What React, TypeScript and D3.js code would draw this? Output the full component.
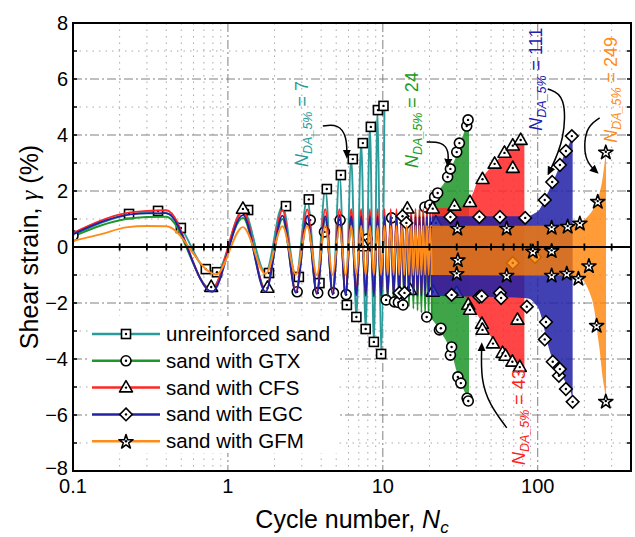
import React from "react";
import * as d3 from "d3";

const WIDTH = 635;
const HEIGHT = 537;
const PLOT = { left: 73, right: 631, top: 23, bottom: 471 };

const X_DOMAIN: [number, number] = [0.1, 400];
const Y_DOMAIN: [number, number] = [-8, 8];
const X_MAJOR = [1, 10, 100];
const X_LABEL_TICKS = [0.1, 1, 10, 100];
const X_LABELS = ["0.1", "1", "10", "100"];
const X_MINOR = [0.2, 0.3, 0.4, 0.5, 0.6, 0.7, 0.8, 0.9, 2, 3, 4, 5, 6, 7, 8, 9, 20, 30, 40, 50, 60, 70, 80, 90, 200, 300];
const Y_MAJOR_GRID = [-6, -4, -2, 2, 4, 6];
const Y_MINOR_GRID = [-7, -5, -3, -1, 1, 3, 5, 7];
const Y_LABEL_TICKS = [-8, -6, -4, -2, 0, 2, 4, 6, 8];
const Y_LABELS = ["−8", "−6", "−4", "−2", "0", "2", "4", "6", "8"];
const Y_EDGE_TICKS = [-7, -6, -5, -4, -3, -2, -1, 1, 2, 3, 4, 5, 6, 7];

const SERIES_NAMES = ["unreinforced sand", "sand with GTX", "sand with CFS", "sand with EGC", "sand with GFM"];
const SERIES_COLORS = ["#2b9b9b", "#1f962a", "#ff2626", "#2222a6", "#ff8c1a"];
const BAND_COLORS = ["#2b9b9b", "#1f962a", "#ff2626", "#2222a6", "#ff8000"];
const BAND_OPACITY = [0.86, 0.86, 0.86, 0.86, 0.78];
const SERIES_SHAPES = ["square", "circle", "triangle", "diamond", "star"];

// first loading quarter / half cycle: [N, strain]
const UNR_START: [number, number][] = [[0.1, 0.42], [0.23, 1.16], [0.35, 1.26], [0.43, 1.15], [0.5, 0.68], [0.72, -0.8], [0.8, -0.86], [0.85, -0.88]];
const GTX_START: [number, number][] = [[0.1, 0.38], [0.22, 1.0], [0.3, 1.07], [0.4, 1.08], [0.78, -1.5]];
const CFS_START: [number, number][] = [[0.1, 0.5], [0.22, 1.21], [0.3, 1.29], [0.4, 1.31], [0.78, -1.55]];
const EGC_START: [number, number][] = [[0.1, 0.45], [0.22, 1.14], [0.3, 1.2], [0.4, 1.21], [0.79, -1.6]];
const GFM_START: [number, number][] = [[0.1, 0.22], [0.15, 0.45], [0.22, 0.7], [0.3, 0.75], [0.4, 0.74], [0.84, -0.98]];

// peak (cycle k + 0.25) and trough (cycle k + 0.75) strains, k = 1, 2, ...
const UNR_PEAKS = [1.32, 1.46, 1.7, 2.07, 2.57, 3.14, 3.71, 4.29, 4.89, 5.04];
const UNR_TROUGHS = [-0.93, -1.07, -1.29, -1.65, -2.07, -2.5, -2.93, -3.39, -3.82];
const GTX_PEAKS = [1.04, 1.0, 0.98, 1.0, 0.98, 1.0, 1.0, 1.02, 1.02, 1.04, 1.05, 1.08, 1.12, 1.16, 1.2, 1.26, 1.32, 1.4, 1.48, 1.58];
const GTX_TROUGHS = [-1.5, -1.58, -1.62, -1.64, -1.68, -1.7, -1.74, -1.78, -1.84, -1.9, -1.95, -2.0, -2.06, -2.12, -2.2, -2.27, -2.35, -2.42, -2.5, -2.58];
const CFS_PEAKS = [1.27, 1.32, 1.34, 1.35, 1.35, 1.36, 1.36, 1.36, 1.36, 1.36, 1.36, 1.36, 1.36, 1.37, 1.37, 1.37, 1.37, 1.37, 1.37, 1.38];
const CFS_TROUGHS = [-1.56, -1.6, -1.62, -1.64, -1.65, -1.66, -1.66, -1.67, -1.67, -1.68, -1.68, -1.68, -1.68, -1.68, -1.68, -1.68, -1.68, -1.68, -1.68, -1.68];
const EGC_PEAKS = [1.14, 1.12, 1.1, 1.1, 1.1, 1.1, 1.1, 1.1, 1.1, 1.1, 1.1, 1.1, 1.1, 1.1, 1.1, 1.1, 1.1, 1.1, 1.1, 1.1];
const EGC_TROUGHS = [-1.6, -1.64, -1.68, -1.7, -1.72, -1.73, -1.74, -1.75, -1.75, -1.75, -1.75, -1.75, -1.75, -1.75, -1.75, -1.75, -1.75, -1.75, -1.75, -1.75];
const GFM_PEAKS = [0.71, 0.74, 0.75, 0.75, 0.75, 0.76, 0.76, 0.76, 0.76, 0.76, 0.76, 0.76, 0.76, 0.76, 0.76, 0.76, 0.76, 0.76, 0.76, 0.76];
const GFM_TROUGHS = [-0.96, -0.98, -1.0, -1.0, -1.0, -1.0, -1.0, -1.0, -1.0, -1.0, -1.0, -1.0, -1.0, -1.0, -1.0, -1.0, -1.0, -1.0, -1.0, -1.0];

// dense part: [N, lower envelope, upper envelope]
const GTX_BAND: [number, number, number][] = [[20.75, -2.58, 1.6], [21.6, -2.7, 1.79], [23.2, -2.96, 2.05], [26.2, -3.45, 2.5], [27.5, -3.7, 2.8], [30, -4.45, 3.3], [31.5, -4.8, 3.7], [33, -5.05, 4.0], [34.8, -5.35, 4.3], [36, -5.5, 4.35]];
const CFS_BAND: [number, number, number][] = [[20.75, -1.68, 1.38], [30, -1.68, 1.42], [33, -1.72, 1.45], [35.5, -1.9, 1.55], [38, -2.15, 1.9], [41, -2.45, 2.35], [44, -2.72, 2.5], [48, -3.05, 2.75], [52.7, -3.4, 3.0], [58, -3.7, 3.25], [63.6, -3.96, 3.46], [70, -4.15, 3.65], [77, -4.3, 3.82], [82, -4.43, 3.93]];
const EGC_BAND: [number, number, number][] = [[20.75, -1.75, 1.1], [45, -1.78, 1.1], [80, -1.82, 1.1], [88, -1.85, 1.12], [95, -2.0, 1.2], [103, -2.3, 1.35], [108, -2.7, 1.55], [113, -3.2, 1.8], [120, -3.75, 2.1], [126, -4.05, 2.35], [133, -4.3, 2.65], [140, -4.5, 2.95], [152, -4.85, 3.43], [160, -5.05, 3.7], [168, -5.4, 3.96]];
const GFM_BAND: [number, number, number][] = [[20.75, -1.0, 0.76], [100, -1.02, 0.76], [170, -1.02, 0.78], [188, -1.08, 0.86], [200, -1.25, 0.97], [215, -1.6, 1.15], [232, -2.25, 1.43], [243, -3.1, 1.7], [250, -3.6, 1.9], [263, -4.7, 2.5], [270, -5.1, 3.0], [276, -5.45, 3.45]];

// marker points [N, strain]
const UNR_MARKERS: [number, number][] = [[0.23, 1.18], [0.354, 1.29], [0.497, 0.68], [0.72, -0.79], [0.85, -0.9], [1.35, 1.32], [1.84, -0.93], [2.37, 1.46], [2.87, -1.07], [3.33, 1.7], [3.9, -1.29], [4.35, 2.07], [5.36, 2.57], [5.86, -2.07], [6.4, 3.14], [6.75, -2.5], [7.43, 3.71], [7.75, -2.93], [8.37, 4.29], [8.75, -3.39], [9.3, 4.89], [9.75, -3.82], [10.1, 5.04]];
const GTX_MARKERS: [number, number][] = [[0.1, 0.4], [2.8, -1.6], [3.4, 0.96], [3.8, -1.64], [4.2, 0.54], [4.8, -1.64], [5.3, 0.96], [5.8, -1.7], [7.9, 0.28], [10.5, -1.89], [11.4, 1.04], [11.9, -1.96], [12.6, -1.98], [13.5, -2.07], [18.7, 1.43], [19.2, -2.5], [20.1, 1.5], [21.6, 1.79], [22.6, 1.93], [23.2, -2.96], [23.7, -2.9], [26.2, 2.5], [27.3, 2.79], [27.3, -3.86], [27.8, -3.57], [30, 3.39], [30.5, -4.64], [31.2, 3.71], [31.9, -4.86], [34.8, 4.32], [35, -5.4], [35.5, 4.54], [35.6, -5.5]];
const CFS_MARKERS: [number, number][] = [[0.78, -1.43], [1.25, 1.36], [1.8, -1.46], [7.6, 0.02], [14.4, 1.37], [15, -1.54], [21, 1.37], [21, -1.6], [22, 0.86], [29, 1.47], [30, -1.64], [35.6, -2.07], [36.5, 1.6], [36.5, -2.25], [43.6, -2.75], [44, 2.42], [44, -2.96], [51.4, -3.45], [52.7, 2.97], [59.3, -3.79], [61, 3.36], [62, -3.89], [68.6, -4.1], [69, 2.82], [69, 3.62], [74, -2.6], [76.6, -4.29], [77.6, 3.82]];
const EGC_MARKERS: [number, number][] = [[13.4, 1.1], [14.2, 0.86], [12.8, -1.64], [13.8, -1.64], [27.3, 1.07], [27.8, -1.71], [42, 1.07], [42, -1.78], [43.5, -1.76], [57, 1.07], [57, -1.64], [58, -1.82], [69, -0.57], [83, 1.04], [85, -2.13], [96, -0.36], [111, 1.68], [111, -3.3], [113, -2.68], [124, 2.32], [125, -4.1], [137, -4.6], [139, 2.93], [139, -4.36], [152, 3.43], [152, -5.07], [166, 3.96], [168, -5.53]];
const GFM_MARKERS: [number, number][] = [[30.3, 0.68], [30.5, -0.45], [30, -0.94], [63, 0.68], [63, -1.0], [93, -0.14], [123, 0.71], [123, -0.12], [123, -1.0], [156, 0.75], [154, -0.93], [183, -1.11], [187, 0.86], [214, -0.66], [240, -2.79], [244, 1.64], [275, 3.4], [275, -5.5]];

// annotations: text anchor [N, strain], arrow control points [N, strain]
const ANNOT_VALUES = ["7", "24", "43", "111", "249"];
const ANNOT_ANCHORS: [number, number][] = [[3.28, 2.86], [16.8, 2.82], [82.4, -7.79], [106, 4.15], [323, 3.72]];
const ANNOT_ARROWS: [number, number][][] = [
  [[4.1, 4.32], [5.13, 4.39], [5.86, 3.96], [5.86, 3.25]],
  [[19.2, 3.75], [24.0, 3.75], [26.7, 3.46], [26.3, 2.93]],
  [[63.1, -6.46], [49.0, -5.64], [42.9, -4.75], [43.5, -3.5]],
  [[116, 5.64], [151.6, 5.43], [149.4, 3.82], [117.8, 2.64]],
  [[251, 4.61], [201, 4.25], [198, 3.11], [240, 2.68]],
];
const ANNOT_COLORS = ["#2a9a9a", "#1a9a1a", "#ff2020", "#2020b0", "#ff8c1a"];

const STARTS = [UNR_START, GTX_START, CFS_START, EGC_START, GFM_START];
const PEAKS = [UNR_PEAKS, GTX_PEAKS, CFS_PEAKS, EGC_PEAKS, GFM_PEAKS];
const TROUGHS = [UNR_TROUGHS, GTX_TROUGHS, CFS_TROUGHS, EGC_TROUGHS, GFM_TROUGHS];
const BANDS = [null, GTX_BAND, CFS_BAND, EGC_BAND, GFM_BAND];
const MARKERS = [UNR_MARKERS, GTX_MARKERS, CFS_MARKERS, EGC_MARKERS, GFM_MARKERS];

const FONT = "'Liberation Sans', Arial, Helvetica, sans-serif";

function buildTrace(start: [number, number][], peaks: number[], troughs: number[]): [number, number][] {
  const out: [number, number][] = start.slice();
  const n = Math.max(peaks.length, troughs.length);
  for (let i = 0; i < n; i++) {
    if (i < peaks.length) out.push([i + 1.25, peaks[i]]);
    if (i < troughs.length) out.push([i + 1.75, troughs[i]]);
  }
  return out;
}

const starPath = d3.symbol(d3.symbolStar, 62)() as string;

function Marker({ shape, cx, cy }: { shape: string; cx: number; cy: number }) {
  const common = { fill: "#fff", stroke: "#000", strokeWidth: 1.6 };
  let el: React.ReactNode = null;
  if (shape === "square") el = <rect x={cx - 4.5} y={cy - 4.5} width={9} height={9} {...common} />;
  else if (shape === "circle") el = <circle cx={cx} cy={cy} r={5} {...common} />;
  else if (shape === "triangle")
    el = <path d={`M${cx},${cy - 7}L${cx + 6.5},${cy + 4.3}L${cx - 6.5},${cy + 4.3}Z`} {...common} strokeLinejoin="round" />;
  else if (shape === "diamond")
    el = <path d={`M${cx},${cy - 6.3}L${cx + 6.3},${cy}L${cx},${cy + 6.3}L${cx - 6.3},${cy}Z`} {...common} />;
  else el = <path d={starPath} transform={`translate(${cx},${cy + 0.8})`} {...common} strokeLinejoin="round" />;
  return (
    <g>
      {el}
      <circle cx={cx} cy={cy} r={1.2} fill="#000" />
    </g>
  );
}

export default function App() {
  const x = d3.scaleLog().domain(X_DOMAIN).range([PLOT.left, PLOT.right]);
  const y = d3.scaleLinear().domain(Y_DOMAIN).range([PLOT.bottom, PLOT.top]);
  const line = d3
    .line<[number, number]>()
    .x((d) => x(d[0]))
    .y((d) => y(d[1]))
    .curve(d3.curveMonotoneX);
  const area = d3
    .area<[number, number, number]>()
    .x((d) => x(d[0]))
    .y0((d) => y(d[1]))
    .y1((d) => y(d[2]))
    .curve(d3.curveMonotoneX);
  const arrowLine = d3
    .line<[number, number]>()
    .x((d) => x(d[0]))
    .y((d) => y(d[1]))
    .curve(d3.curveBasis);

  const y0 = y(0);
  const legendRows = SERIES_NAMES.map((_, i) => 334 + i * 26.8);

  return (
    <svg width={WIDTH} height={HEIGHT} style={{ display: "block", position: "absolute", left: 0, top: 0 }} fontFamily={FONT}>
      <defs>
        <clipPath id="plotClip">
          <rect x={PLOT.left} y={PLOT.top} width={PLOT.right - PLOT.left} height={PLOT.bottom - PLOT.top} />
        </clipPath>
        <marker id="arrowHead" viewBox="0 0 10 10" refX="7" refY="5" markerWidth="9" markerHeight="9" markerUnits="userSpaceOnUse" orient="auto">
          <path d="M0,0.5L10,5L0,9.5Z" fill="#000" />
        </marker>
      </defs>
      <rect x={0} y={0} width={WIDTH} height={HEIGHT} fill="#fff" />

      {/* grid */}
      <g>
        {X_MINOR.map((v) => (
          <line key={"xm" + v} x1={x(v)} x2={x(v)} y1={PLOT.top} y2={PLOT.bottom} stroke="#a8a8a8" strokeWidth={1} strokeDasharray="1.5,5" />
        ))}
        {Y_MINOR_GRID.map((v) => (
          <line key={"ym" + v} x1={PLOT.left} x2={PLOT.right} y1={y(v)} y2={y(v)} stroke="#a8a8a8" strokeWidth={1} strokeDasharray="1.5,5" />
        ))}
        {X_MAJOR.map((v) => (
          <line key={"xM" + v} x1={x(v)} x2={x(v)} y1={PLOT.top} y2={PLOT.bottom} stroke="#808080" strokeWidth={1} strokeDasharray="9,3,2,3" />
        ))}
        {Y_MAJOR_GRID.map((v) => (
          <line key={"yM" + v} x1={PLOT.left} x2={PLOT.right} y1={y(v)} y2={y(v)} stroke="#808080" strokeWidth={1} strokeDasharray="9,3,2,3" />
        ))}
      </g>

      {/* series */}
      <g clipPath="url(#plotClip)">
        {SERIES_NAMES.map((name, i) => {
          const trace = buildTrace(STARTS[i], PEAKS[i], TROUGHS[i]);
          const band = BANDS[i];
          return (
            <g key={name}>
              <path d={line(trace) || ""} fill="none" stroke={SERIES_COLORS[i]} strokeWidth={1.9} strokeLinejoin="round" />
              {band && <path d={area(band) || ""} fill={BAND_COLORS[i]} fillOpacity={BAND_OPACITY[i]} />}
              {MARKERS[i].map((m, j) => (
                <Marker key={j} shape={SERIES_SHAPES[i]} cx={x(m[0])} cy={y(m[1])} />
              ))}
            </g>
          );
        })}
      </g>

      {/* zero line with ticks */}
      <line x1={PLOT.left} x2={PLOT.right} y1={y0} y2={y0} stroke="#000" strokeWidth={2} />
      {X_MINOR.map((v) => (
        <line key={"zt" + v} x1={x(v)} x2={x(v)} y1={y0 - 3.5} y2={y0 + 3.5} stroke="#000" strokeWidth={1.8} />
      ))}
      {X_MAJOR.map((v) => (
        <line key={"zT" + v} x1={x(v)} x2={x(v)} y1={y0 - 6} y2={y0 + 6} stroke="#000" strokeWidth={1.8} />
      ))}

      {/* edge ticks */}
      {Y_EDGE_TICKS.map((v) => (
        <g key={"et" + v}>
          <line x1={PLOT.left} x2={PLOT.left + 4} y1={y(v)} y2={y(v)} stroke="#000" strokeWidth={1.5} />
          <line x1={PLOT.right - 4} x2={PLOT.right} y1={y(v)} y2={y(v)} stroke="#000" strokeWidth={1.5} />
        </g>
      ))}

      {/* frame */}
      <rect x={PLOT.left} y={PLOT.top} width={PLOT.right - PLOT.left} height={PLOT.bottom - PLOT.top} fill="none" stroke="#000" strokeWidth={2} />

      {/* tick labels */}
      {Y_LABEL_TICKS.map((v, i) => (
        <text key={"yl" + v} x={68} y={y(v) + (v === -8 ? 4 : 7)} textAnchor="end" fontSize={20} fill="#000">
          {Y_LABELS[i]}
        </text>
      ))}
      {X_LABEL_TICKS.map((v, i) => (
        <text key={"xl" + v} x={x(v)} y={493} textAnchor="middle" fontSize={20} fill="#000">
          {X_LABELS[i]}
        </text>
      ))}

      {/* axis titles */}
      <text x={(PLOT.left + PLOT.right) / 2} y={528} textAnchor="middle" fontSize={25} fill="#000" style={{ whiteSpace: "pre" }}>
        {"Cycle number, "}
        <tspan fontStyle="italic">N</tspan>
        <tspan fontStyle="italic" fontSize={17} dy={5}>c</tspan>
      </text>
      <text transform={`translate(38,${(PLOT.top + PLOT.bottom) / 2}) rotate(-90)`} textAnchor="middle" fontSize={25} fill="#000" style={{ whiteSpace: "pre" }}>
        {"Shear strain, "}
        <tspan fontStyle="italic" fontFamily="'Liberation Serif', 'Times New Roman', serif">γ</tspan>
        {" (%)"}
      </text>

      {/* legend */}
      <rect x={88} y={316} width={250} height={137} fill="#fff" />
      {SERIES_NAMES.map((name, i) => (
        <g key={"lg" + name}>
          <line x1={92} x2={160} y1={legendRows[i]} y2={legendRows[i]} stroke={SERIES_COLORS[i]} strokeWidth={2.5} />
          <Marker shape={SERIES_SHAPES[i]} cx={126} cy={legendRows[i]} />
          <text x={166} y={legendRows[i] + 7} fontSize={20.5} fill="#000">
            {name}
          </text>
        </g>
      ))}

      {/* annotations */}
      {ANNOT_VALUES.map((val, i) => {
        const [an, ag] = ANNOT_ANCHORS[i];
        return (
          <g key={"an" + i}>
            <text transform={`translate(${x(an)},${y(ag)}) rotate(-90)`} fontSize={18} fill={ANNOT_COLORS[i]} style={{ whiteSpace: "pre" }}>
              <tspan fontStyle="italic">N</tspan>
              <tspan fontStyle="italic" fontSize={12.5} dy={4}>DA_5%</tspan>
              <tspan dy={-4}>{" = " + val}</tspan>
            </text>
            <path d={arrowLine(ANNOT_ARROWS[i]) || ""} fill="none" stroke="#000" strokeWidth={1.5} markerEnd="url(#arrowHead)" />
          </g>
        );
      })}
    </svg>
  );
}
